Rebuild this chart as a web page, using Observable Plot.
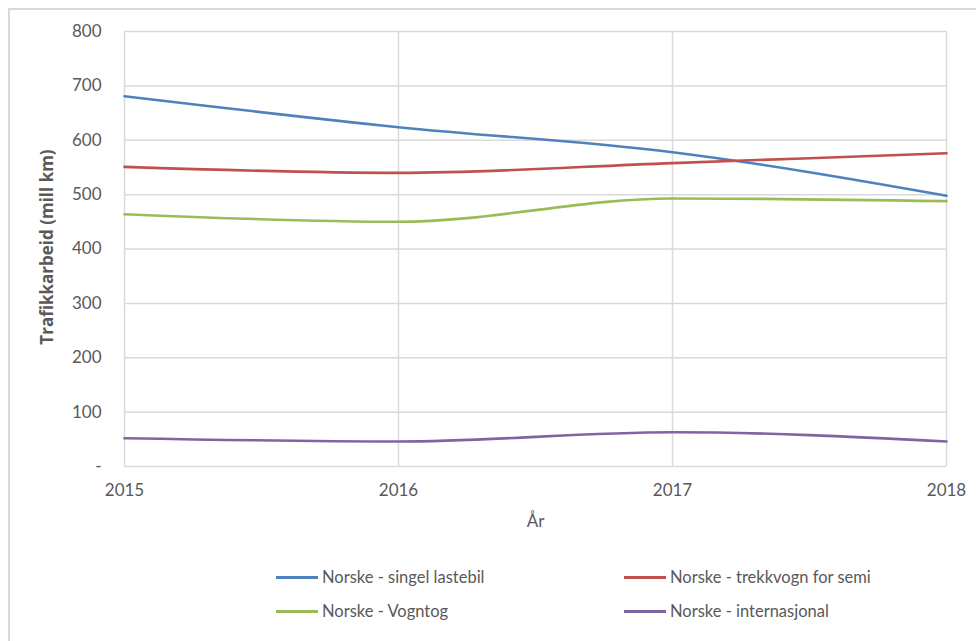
<!DOCTYPE html>
<html><head><meta charset="utf-8">
<script src="https://cdn.jsdelivr.net/npm/d3@7"></script>
<script src="https://cdn.jsdelivr.net/npm/@observablehq/plot@0.6"></script>
<style>
html,body{margin:0;padding:0;background:#fff;}
#wrap{position:relative;width:976px;height:641px;overflow:hidden;font-family:Lato,"Open Sans",sans-serif;color:#595959;}
#border{position:absolute;left:8px;top:8px;width:1000px;height:700px;border:2px solid #d9d9d9;box-sizing:border-box;}
#chart{position:absolute;left:0;top:0;}
#chart svg{overflow:visible;}
.leg{position:absolute;display:flex;align-items:center;font-size:16.5px;color:#595959;white-space:nowrap;}
.leg span.sw{display:inline-block;width:42px;height:3px;margin-right:4px;}
</style></head><body>
<div id="wrap"><div id="border"></div><div id="chart"></div></div>
<script>
const years = [2015, 2016, 2017, 2018];
const seriesNames = ["Norske - singel lastebil", "Norske - trekkvogn for semi", "Norske - Vogntog", "Norske - internasjonal"];
const singel = [681, 624, 578, 498];
const trekkvogn = [551, 540, 558, 576];
const vogntog = [464, 450, 493, 488];
const internasjonal = [52, 46, 63, 46];
const colors = ["#4f81bd", "#c0504d", "#9bbb59", "#8064a2"];
const yTicks = [0, 100, 200, 300, 400, 500, 600, 700, 800];

const allSeries = [singel, trekkvogn, vogntog, internasjonal];
const data = [];
allSeries.forEach((vals, i) => vals.forEach((v, j) => data.push({year: years[j], value: v, series: seriesNames[i]})));

const plot = Plot.plot({
  width: 976, height: 545,
  marginLeft: 124, marginRight: 30, marginTop: 31, marginBottom: 79,
  style: {fontFamily: "Lato, 'Open Sans', sans-serif", fontSize: "17px", color: "#595959", background: "transparent"},
  x: {domain: [2015, 2018]},
  y: {domain: [0, 800]},
  color: {domain: seriesNames, range: colors},
  marks: [
    Plot.gridX(years, {stroke: "#d9d9d9", strokeOpacity: 1, strokeWidth: 1.5}),
    Plot.gridY(yTicks, {stroke: "#d9d9d9", strokeOpacity: 1, strokeWidth: 1.5}),
    Plot.axisX(years, {tickSize: 0, tickPadding: 17, tickFormat: d => String(d), label: null, fill: "#595959"}),
    Plot.axisY(yTicks, {tickSize: 0, tickPadding: 23, tickFormat: d => d === 0 ? "-" : String(d), label: null, fill: "#595959"}),
    Plot.text(["Trafikkarbeid (mill km)"], {frameAnchor: "left", textAnchor: "middle", dx: -77, dy: -2, rotate: -90, fontWeight: "bold", fontFamily: "'Open Sans', sans-serif", fontSize: 17, fill: "#595959", text: d => d}),
    Plot.text(["År"], {frameAnchor: "bottom", dy: 60, fontSize: 17, fill: "#595959", text: d => d}),
    Plot.line(data, {x: "year", y: "value", z: "series", stroke: "series", strokeWidth: 2.6, curve: "monotone-x"})
  ]
});
document.getElementById("chart").appendChild(plot);

const legPos = [[276, 578], [624, 578], [276, 612], [624, 612]];
seriesNames.forEach((name, i) => {
  const d = document.createElement("div");
  d.className = "leg";
  d.style.left = legPos[i][0] + "px";
  d.style.top = (legPos[i][1] - 11) + "px";
  d.innerHTML = `<span class="sw" style="background:${colors[i]}"></span>${name}`;
  document.getElementById("wrap").appendChild(d);
});
</script>
</body></html>
